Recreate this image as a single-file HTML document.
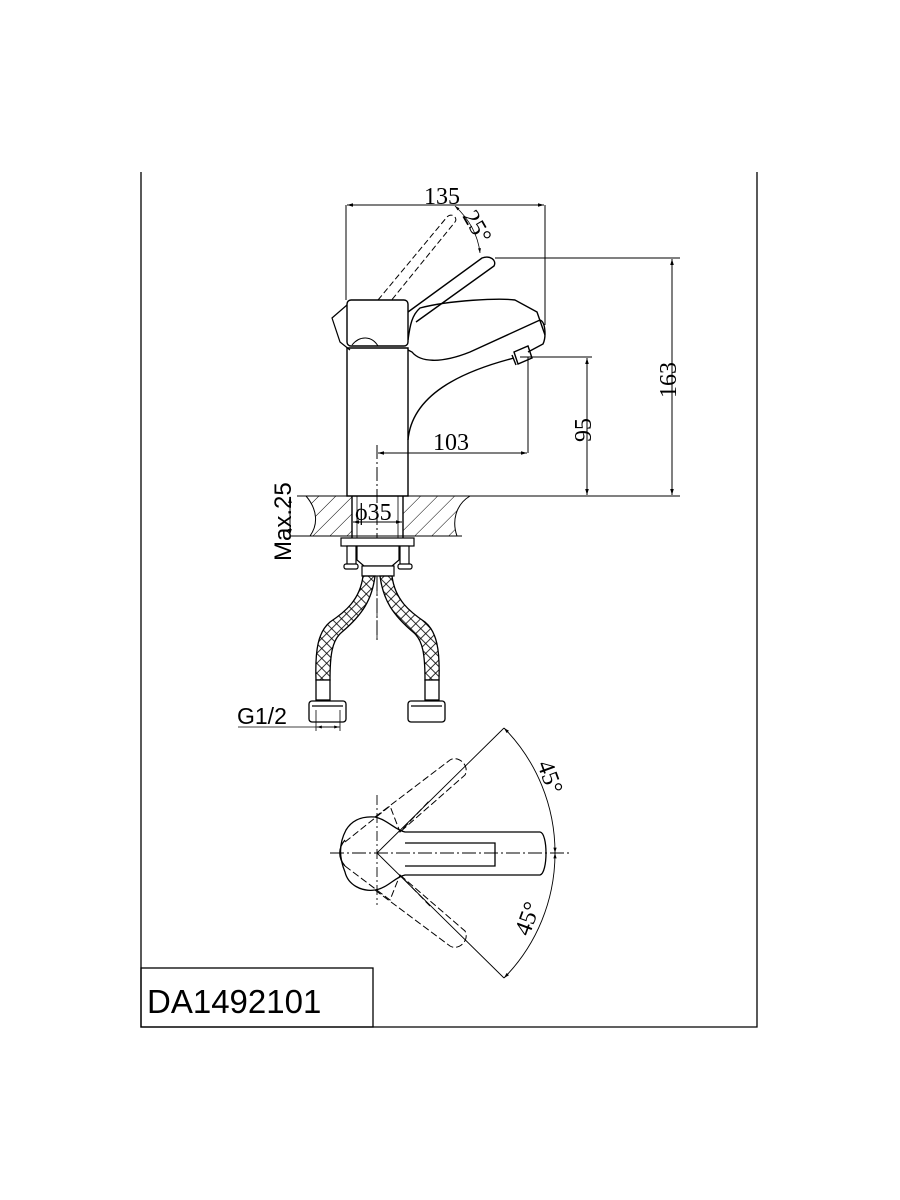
<!DOCTYPE html>
<html><head><meta charset="utf-8"><style>
html,body{margin:0;padding:0;background:#fff;width:900px;height:1200px;overflow:hidden}
svg{display:block}
text{font-family:"Liberation Serif",serif;fill:#000}
.s{font-family:"Liberation Sans",sans-serif}
</style></head><body>
<svg width="900" height="1200" viewBox="0 0 900 1200" xmlns="http://www.w3.org/2000/svg">
<defs>
<pattern id="h" width="12" height="12" patternUnits="userSpaceOnUse" patternTransform="rotate(45)">
<line x1="0" y1="0" x2="0" y2="12" stroke="#000" stroke-width="1"/></pattern>
<pattern id="m" width="7" height="7" patternUnits="userSpaceOnUse" patternTransform="rotate(45)">
<rect width="7" height="7" fill="none" stroke="#000" stroke-width="0.8"/></pattern>
<marker id="a" viewBox="0 0 10 10" refX="10" refY="5" markerWidth="8" markerHeight="6" orient="auto-start-reverse"><path d="M0,2 L10,5 L0,8z" fill="#000"/></marker>
</defs>
<g fill="none" stroke="#000" stroke-width="1.3">
<path d="M141,172 V1027 H757 V172"/>
<rect x="141" y="968" width="232" height="59"/>
</g>
<text x="147" y="1013" class="s" font-size="33">DA1492101</text>

<g fill="none" stroke="#000" stroke-width="1.4">
<path d="M306,496 C318,510 318,525 310,536 L457,536 C452,522 455,505 470,496 Z" fill="url(#h)" stroke="none"/>
<rect x="352" y="496" width="51" height="40" fill="#fff" stroke="none"/>
<path d="M306,496 C318,510 318,525 310,536 M470,496 C455,505 452,522 457,536" stroke-width="1"/>
<line x1="297" y1="496" x2="680" y2="496" stroke-width="1"/>
<line x1="290" y1="536" x2="462" y2="536" stroke-width="1"/>
<line x1="352" y1="496" x2="352" y2="538"/><line x1="403" y1="496" x2="403" y2="538"/>
<line x1="357" y1="496" x2="357" y2="538" stroke-width="0.8"/><line x1="398" y1="496" x2="398" y2="538" stroke-width="0.8"/>
<path d="M347,496 V348 H408 V496 Z" fill="#fff"/>
<path d="M408,440 C412,395 460,372 514,358 M408,350 L412,352 C420,362 440,364 470,352 L540,320 C546,322 546,338 543,344 L528,352"/>
<path d="M408,340 C410,325 412,315 420,308 C450,300 500,298 515,300 L537,312 L545,335"/>
<path d="M514,352 L528,346 L532,358 L518,364 Z M512,355 L516,365"/>
<path d="M408,312 L482,258 C490,255 497,260 494,266 L416,322"/>
<path d="M378,300 L447,217 C452,212 458,218 455,222 L390,302" stroke-dasharray="6,3" stroke-width="1"/>
<path d="M378,300 C370,305 360,312 348,318" stroke-dasharray="6,3" stroke-width="1"/>
<rect x="347" y="300" width="61" height="46" rx="4" fill="#fff"/>
<path d="M347,305 L332,318 L340,342 L350,350" stroke-width="1.2"/>
<path d="M352,345 C360,335 372,336 378,346" stroke-width="1"/>
<path d="M455,206 C470,220 478,235 480,253" stroke-width="0.8" marker-start="url(#a)" marker-end="url(#a)"/>
</g>

<g fill="none" stroke="#000" stroke-width="1">
<line x1="346" y1="205" x2="346" y2="300"/><line x1="545" y1="205" x2="545" y2="325"/>
<line x1="347" y1="205" x2="544" y2="205" marker-start="url(#a)" marker-end="url(#a)"/>
<line x1="495" y1="258" x2="680" y2="258"/>
<line x1="672" y1="259" x2="672" y2="495" marker-start="url(#a)" marker-end="url(#a)"/>
<line x1="520" y1="357" x2="592" y2="357"/>
<line x1="587" y1="358" x2="587" y2="495" marker-start="url(#a)" marker-end="url(#a)"/>
<line x1="528" y1="357" x2="528" y2="453"/>
<line x1="378" y1="453" x2="527" y2="453" marker-start="url(#a)" marker-end="url(#a)"/>
<line x1="290" y1="497" x2="290" y2="535" marker-start="url(#a)" marker-end="url(#a)"/>
<line x1="353" y1="522" x2="402" y2="522" marker-start="url(#a)" marker-end="url(#a)"/>
<line x1="377" y1="445" x2="377" y2="640" stroke-dasharray="14,3,2,3"/>
</g>
<text x="424" y="204" font-size="24">135</text>
<text x="0" y="0" font-size="24" transform="translate(462,216) rotate(60)">25°</text>
<text x="0" y="0" font-size="24" transform="translate(676,398) rotate(-90)">163</text>
<text x="0" y="0" font-size="24" transform="translate(591,442) rotate(-90)">95</text>
<text x="433" y="450" font-size="24">103</text>
<text x="355" y="520" font-size="24">ϕ35</text>
<text x="0" y="0" class="s" font-size="24" transform="translate(291,561) rotate(-90)">Max.25</text>

<g fill="#fff" stroke="#000" stroke-width="1.2">
<rect x="341" y="538" width="73" height="8"/>
<rect x="347" y="546" width="9" height="20"/><rect x="400" y="546" width="9" height="20"/>
<rect x="344" y="564" width="14" height="5" rx="2"/><rect x="398" y="564" width="14" height="5" rx="2"/>
<path d="M357,546 H399 V560 L392,566 H364 L357,560 Z"/>
<rect x="362" y="566" width="32" height="10"/>
</g>
<g stroke="#000" stroke-width="1.3">
<path d="M363,576 C360,600 345,612 330,622 C318,632 315,650 316,680 L330,680 C330,655 332,640 342,632 C362,615 372,600 375,576 Z" fill="url(#m)"/>
<path d="M392,576 C395,600 410,612 425,622 C437,632 440,650 439,680 L425,680 C425,655 423,640 413,632 C393,615 383,600 380,576 Z" fill="url(#m)"/>
<rect x="316" y="680" width="14" height="20" fill="#fff"/>
<rect x="425" y="680" width="14" height="20" fill="#fff"/>
<rect x="309" y="701" width="37" height="21" rx="3" fill="#fff"/>
<rect x="408" y="701" width="37" height="21" rx="3" fill="#fff"/>
<line x1="312" y1="706" x2="343" y2="706"/><line x1="411" y1="706" x2="442" y2="706"/>
</g>
<g fill="none" stroke="#000" stroke-width="0.8">
<line x1="377" y1="576" x2="377" y2="640" stroke-dasharray="8,3"/>
<line x1="238" y1="727" x2="340" y2="727"/>
<line x1="316" y1="710" x2="316" y2="731"/><line x1="340" y1="710" x2="340" y2="731"/>
<line x1="317" y1="727" x2="339" y2="727" marker-start="url(#a)" marker-end="url(#a)"/>
</g>
<text x="237" y="724" class="s" font-size="23">G1/2</text>

<g fill="none" stroke="#000" stroke-width="1.3">
<path d="M375,817 C388,820 395,830 405,832 L540,832 C548,833 548,873 540,875 L405,875 C395,877 388,888 375,890 C362,892 348,885 345,872 C340,860 338,845 346,830 C352,820 362,816 375,817 Z" fill="#fff"/>
<path d="M405,843 L495,843 L495,866 L405,866"/>
<path d="M345,840 C338,848 338,858 345,866"/>
<g stroke-dasharray="7,3" stroke-width="1">
<path d="M375,817 L450,760 C458,755 470,765 465,775 L400,832"/>
<path d="M345,842 L390,806 L400,832 L430,800"/>
<path d="M375,890 L450,946 C458,951 470,941 465,931 L400,875"/>
<path d="M345,866 L390,900 L400,875 L430,906"/>
</g>
</g>
<g fill="none" stroke="#000" stroke-width="0.9">
<line x1="377" y1="853" x2="504" y2="728"/>
<line x1="377" y1="853" x2="504" y2="978"/>
<path d="M504,728 A178,178 0 0 1 555,853" marker-start="url(#a)" marker-end="url(#a)"/>
<path d="M555,853 A178,178 0 0 1 504,978" marker-start="url(#a)" marker-end="url(#a)"/>
<line x1="330" y1="853" x2="572" y2="853" stroke-dasharray="14,3,2,3"/>
<line x1="377" y1="795" x2="377" y2="905" stroke-dasharray="10,3,2,3"/>
</g>
<text x="0" y="0" font-size="24" transform="translate(537,764) rotate(70)">45°</text>
<text x="0" y="0" font-size="24" transform="translate(529,937) rotate(-70)">45°</text>
</svg>
</body></html>
